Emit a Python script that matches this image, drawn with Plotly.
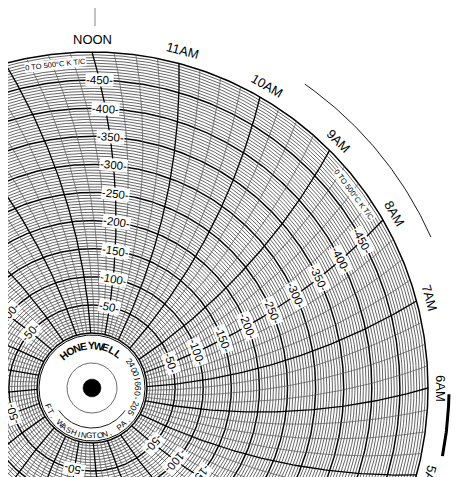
import numpy as np
import plotly.graph_objects as go

# ---- data ----
hour_labels = ["NOON", "11AM", "10AM", "9AM", "8AM", "7AM", "6AM", "5AM", "4AM", "3AM", "2AM", "1AM",
               "MIDNIGHT", "11PM", "10PM", "9PM", "8PM", "7PM", "6PM", "5PM", "4PM", "3PM", "2PM", "1PM"]
hour_offsets = list(range(0, -24, -1))          # hours relative to noon
scale_values = [50, 100, 150, 200, 250, 300, 350, 400, 450]
scale_hours = [0, -4, -8, -12, 4, 8]             # hours (rel. noon) carrying a printed scale
range_text = "0 TO 500°C K T/C"
t_min, t_max = 0, 500

# ---- geometry ----
R0, R1, RA = 55.0, 336.0, 600.0
def rad(v):
    return R0 + (v - t_min) * (R1 - R0) / (t_max - t_min)
def theta(th_out, r):
    return th_out + np.degrees(np.arccos(R1 / (2 * RA)) - np.arccos(r / (2 * RA)))
def hang(h):
    return 90 + h * 15.0

fig = go.Figure()

def add_lines(xs, ys, w, c):
    fig.add_trace(go.Scatter(x=xs, y=ys, mode="lines", line=dict(width=w, color=c),
                             hoverinfo="skip", showlegend=False))

# concentric circles
phi = np.radians(np.linspace(0, 360, 721))
fx, fy, bx, by = [], [], [], []
for v in range(t_min, t_max + 1, 5):
    r = rad(v)
    xs, ys = list(r * np.cos(phi)) + [None], list(r * np.sin(phi)) + [None]
    if v % 50 == 0:
        bx += xs; by += ys
    else:
        fx += xs; fy += ys
add_lines(fx, fy, 0.65, "#111")
add_lines(bx, by, 1.5, "#000")

# curved time lines
rr = np.linspace(R0, R1, 80)
tx, ty, hx, hy = [], [], [], []
for q in range(96):
    th = np.radians(theta(hang(q / 4.0), rr))
    xs, ys = list(rr * np.cos(th)) + [None], list(rr * np.sin(th)) + [None]
    if q % 4 == 0:
        hx += xs; hy += ys
    else:
        tx += xs; ty += ys
add_lines(tx, ty, 0.7, "#555")
add_lines(hx, hy, 1.3, "#000")

# hub
hub = np.radians(np.linspace(0, 360, 181))
fig.add_trace(go.Scatter(x=list(53 * np.cos(hub)), y=list(53 * np.sin(hub)), mode="lines", fill="toself",
                         fillcolor="white", line=dict(width=1, color="#000"), hoverinfo="skip", showlegend=False))
add_lines(list(25 * np.cos(hub)), list(25 * np.sin(hub)), 0.8, "#444")
fig.add_trace(go.Scatter(x=list(9 * np.cos(hub)), y=list(9 * np.sin(hub)), mode="lines", fill="toself",
                         fillcolor="black", line=dict(width=0.5, color="#000"), hoverinfo="skip", showlegend=False))
a = np.radians(np.linspace(214, 326, 50))
add_lines(list(40 * np.cos(a)), list(40 * np.sin(a)), 0.9, "#000")

# outer arcs
a = np.radians(np.linspace(24, 55, 60))
add_lines(list(371 * np.cos(a)), list(371 * np.sin(a)), 0.9, "#000")
a = np.radians(np.linspace(-11, -1, 30))
add_lines(list(357 * np.cos(a)), list(357 * np.sin(a)), 3.0, "#000")

ann = []
def txt(x, y, s, ang, size, bold=False, bg=None):
    ann.append(dict(x=x, y=y, text=("<b>%s</b>" % s) if bold else s, showarrow=False,
                    textangle=((ang + 180) % 360) - 180, xref="x", yref="y",
                    font=dict(size=size, color="#000", family="Liberation Sans, Arial"),
                    bgcolor=bg, borderpad=0))

for lab, h in zip(hour_labels, hour_offsets):
    th = hang(h)
    txt(349 * np.cos(np.radians(th)), 349 * np.sin(np.radians(th)), lab, 90 - th, 13)

for h in scale_hours:
    tho = hang(h)
    for v in scale_values:
        r = rad(v)
        th = float(theta(tho, r))
        txt(r * np.cos(np.radians(th)), r * np.sin(np.radians(th)), "-%d-" % v, 90 - th, 11.5, bg="white")
    th = tho + 6.5
    txt(326 * np.cos(np.radians(th)), 326 * np.sin(np.radians(th)), range_text, 90 - th, 7.5, bg="white")

def curved(s, r, a0, a1, size, bold, bottom=False):
    angs = np.linspace(a0, a1, len(s))
    for ch, t in zip(s, angs):
        if ch == " ":
            continue
        rot = (270 - t) if bottom else (90 - t)
        txt(r * np.cos(np.radians(t)), r * np.sin(np.radians(t)), ch, rot, size, bold)

curved("HONEYWELL", 43, 130, 52, 10.5, True)
curved("2400I660-205", 46, 36, -32, 8.5, False)
curved("FT. WASHINGTON, PA.", 48, 203, 318, 8, False, bottom=True)

fig.update_layout(
    width=468, height=477, margin=dict(l=0, r=0, t=0, b=0),
    paper_bgcolor="white", plot_bgcolor="white", annotations=ann,
    xaxis=dict(range=[-84, 384], visible=False, fixedrange=True),
    yaxis=dict(range=[-97, 380], visible=False, fixedrange=True),
    shapes=[dict(type="line", x0=3, x1=3, y0=362, y1=380, line=dict(width=1, color="#888")),
            dict(type="line", x0=371, x1=376, y0=-5, y1=-5, line=dict(width=1, color="#888"))],
)
fig.write_html("out.html")
